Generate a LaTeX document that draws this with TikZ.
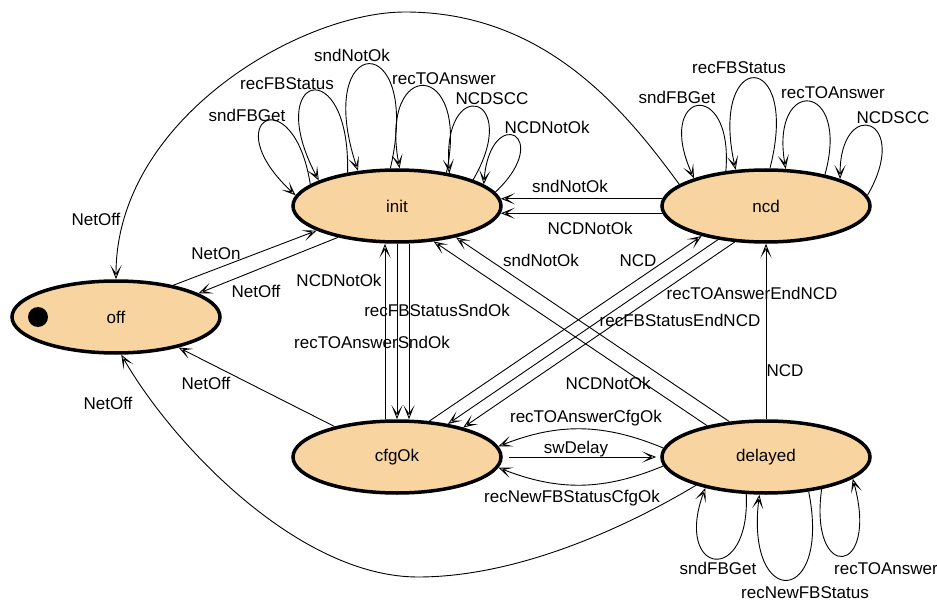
\documentclass[tikz,border=0pt]{standalone}
\usepackage{fontspec}
\setmainfont{Liberation Sans}
\usetikzlibrary{arrows.meta,shapes.geometric}
\definecolor{peach}{RGB}{248,212,160}
\newcommand{\lblfont}{\fontsize{17}{20}\selectfont}
\begin{document}
\begin{tikzpicture}[x=1pt, y=-1pt,
  >={Stealth[open,length=14pt,width=11pt,inset=8pt]},
  conn/.style={->, line width=0.9pt},
  state/.style={ellipse, draw, line width=3.5pt, fill=peach,
    minimum width=208pt, minimum height=72pt, inner sep=0pt, font=\lblfont},
  lbl/.style={font=\lblfont, inner sep=0pt, text height=12.2pt, text depth=0pt}]
\useasboundingbox (0,0) rectangle (937,604);

% states
\node[state] (init)    at (397,206) {init};
\node[state] (ncd)     at (766,206) {ncd};
\node[state] (off)     at (116,317) {off};
\node[state] (cfgOk)   at (397,457) {cfgOk};
\node[state] (delayed) at (766,457) {delayed};
\node[circle, fill=black, minimum size=20pt, inner sep=0pt] (initdot) at (38,317) {};

% off <-> init, cfgOk
\draw[conn] (off.29) -- (init.197);
\node[lbl] (tNetOn) at (216,253) {NetOn};
\draw[conn] (init.208) -- (off.16);
\node[lbl] (tNetOffA) at (256,291) {NetOff};
\draw[conn] (cfgOk.154) -- (off.334);
\node[lbl] (tNetOffB) at (206,383) {NetOff};

% long arcs back to off
\draw[conn] (ncd.166) .. controls +(-55,-75) and +(140,0) .. (405,12)
            .. controls +(-105,0) and +(0,-160) .. (off.north);
\node[lbl] (tNetOffC) at (96,219) {NetOff};
\draw[conn] (delayed.202) .. controls +(-70,42) and +(100,0) .. (418,577)
            .. controls +(-118,0) and +(53,92) .. (off.278);
\node[lbl] (tNetOffD) at (108,403) {NetOff};

% ncd -> init
\draw[conn] (ncd.176) -- (init.4);
\node[lbl] (tSndNotOkA) at (570,186) {sndNotOk};
\draw[conn] (ncd.184) -- (init.356);
\node[lbl] (tNCDNotOkA) at (590,228) {NCDNotOk};

% init <-> cfgOk
\draw[conn] ([xshift=-12pt]cfgOk.north) -- ([xshift=-12pt]init.south);
\node[lbl] (tNCDNotOkB) at (339,280) {NCDNotOk};
\draw[conn] (init.south) -- (cfgOk.north);
\node[lbl] (tRecFBSnd) at (437,310) {recFBStatusSndOk};
\draw[conn] ([xshift=12pt]init.south) -- ([xshift=12pt]cfgOk.north);
\node[lbl] (tRecTOSnd) at (372,342) {recTOAnswerSndOk};

% delayed -> init
\draw[conn] (delayed.152) -- (init.316);
\node[lbl] (tNCDNotOkC) at (608,383) {NCDNotOk};
\draw[conn] (delayed.136) -- (init.332);
\node[lbl] (tSndNotOkB) at (541,260) {sndNotOk};

% cfgOk <-> ncd
\draw[conn] (cfgOk.48) -- (ncd.205);
\node[lbl] (tNCDa) at (638,260) {NCD};
\draw[conn] (ncd.215) -- (cfgOk.33);
\node[lbl] (tRecTOEnd) at (752,293) {recTOAnswerEndNCD};
\draw[conn] (ncd.229) -- (cfgOk.24);
\node[lbl] (tRecFBEnd) at (680,320) {recFBStatusEndNCD};

% delayed -> ncd
\draw[conn] (delayed.north) -- (ncd.south);
\node[lbl] (tNCDb) at (785,370) {NCD};

% cfgOk <-> delayed
\draw[conn, shorten <=6pt, shorten >=4pt] (cfgOk.east) -- (delayed.west);
\node[lbl] (tSwDelay) at (576,447) {swDelay};
\draw[conn] (delayed.175) to[bend right=22] (cfgOk.6);
\node[lbl] (tRecTOCfg) at (586,416) {recTOAnswerCfgOk};
\draw[conn] (delayed.185) to[bend left=22] (cfgOk.354);
\node[lbl] (tRecNewCfg) at (572,496) {recNewFBStatusCfgOk};

% self loops on init
\draw[conn] (init.166) .. controls +(-17,-107) and +(-81,-75) .. (init.174);
\node[lbl] (iL1) at (247,115) {sndFBGet};
\draw[conn] (init.146) .. controls +(3,-121) and +(-57,-108) .. (init.162);
\node[lbl] (iL2) at (287,83) {recFBStatus};
\draw[conn] (init.100) .. controls +(33,-142) and +(-46,-139) .. (init.138);
\node[lbl] (iL3) at (352,55) {sndNotOk};
\draw[conn] (init.34) .. controls +(24,-114) and +(-21,-111) .. (init.86);
\node[lbl] (iL4) at (444,78) {recTOAnswer};
\draw[conn] (init.19) .. controls +(50,-86) and +(-8,-99) .. (init.32);
\node[lbl] (iL5) at (492,98) {NCDSCC};
\draw[conn] (init.8) .. controls +(60,-57) and +(7,-81) .. (init.14);
\node[lbl] (iL6) at (547,127) {NCDNotOk};

% self loops on ncd
\draw[conn] (ncd.139) .. controls +(8,-95) and +(-40,-88) .. (ncd.159);
\node[lbl] (nL1) at (677,97) {sndFBGet};
\draw[conn] (ncd.84) .. controls +(31,-120) and +(-27,-122) .. (ncd.130);
\node[lbl] (nL2) at (739,67) {recFBStatus};
\draw[conn] (ncd.28) .. controls +(26,-94) and +(-16,-93) .. (ncd.62);
\node[lbl] (nL3) at (833,92) {recTOAnswer};
\draw[conn] (ncd.6) .. controls +(45,-78) and +(0,-83) .. (ncd.20);
\node[lbl] (nL4) at (893,117) {NCDSCC};

% self loops on delayed
\draw[conn] (delayed.242) .. controls +(4,93) and +(-32,87) .. (delayed.207);
\node[lbl] (dL1) at (718,568) {sndFBGet};
\draw[conn] (delayed.321) .. controls +(23,115) and +(-14,116) .. (delayed.260);
\node[lbl] (dL2) at (805,592) {recNewFBStatus};
\draw[conn] (delayed.330) .. controls +(-13,94) and +(27,98) .. (delayed.346);
\node[lbl] (dL3) at (886,568) {recTOAnswer};
\end{tikzpicture}
\end{document}
